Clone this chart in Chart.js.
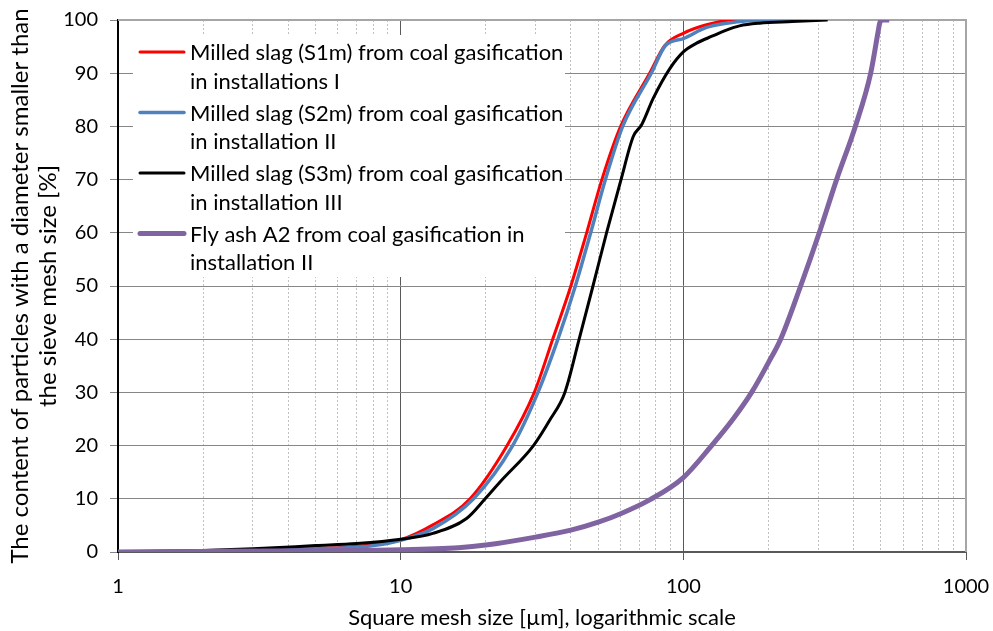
<!DOCTYPE html>
<html>
<head>
<meta charset="utf-8">
<script src="https://cdn.jsdelivr.net/npm/chart.js@4.4.0/dist/chart.umd.min.js"></script>
<style>
  html, body { margin: 0; padding: 0; background: #ffffff; }
  canvas { display: block; }
</style>
</head>
<body>
<canvas id="psd" width="993" height="631"></canvas>
<script>
// Series labels (two lines each, as shown in the key)
const seriesNames = [
  ['Milled slag (S1m) from coal gasification', 'in installations I'],
  ['Milled slag (S2m) from coal gasification', 'in installation II'],
  ['Milled slag (S3m) from coal gasification', 'in installation III'],
  ['Fly ash A2 from coal gasification in', 'installation II']
];

// Cumulative passing [%] versus square mesh size [µm]
const s1mSize    = [1, 2, 4, 6, 8, 10, 13, 17.6, 23.8, 29.7, 34.5, 40, 45.5, 51.5, 60, 76, 86, 100, 120.7, 150, 238];
const s1mPassing = [0, 0.2, 0.5, 0.8, 1.4, 2.3, 5.1, 10, 20, 30, 40, 50, 60, 70, 80, 90, 95.2, 97.5, 99.1, 100, 100];

const s2mSize    = [1, 2, 4, 6, 8, 10, 13, 18.1, 24.9, 30.6, 36, 41.5, 47, 53, 61, 77, 86.5, 100, 120.7, 142, 200, 247];
const s2mPassing = [0, 0.2, 0.4, 0.7, 1.2, 2.2, 4.4, 10, 20, 30, 40, 50, 60, 70, 80, 90, 95.2, 96.5, 98.6, 99.4, 100, 100];

const s3mSize    = [1, 2, 3, 5, 7, 10, 13, 17.1, 19.9, 22.5, 29.5, 33.7, 38.1, 42.8, 47.9, 53.5, 60.2, 66.5, 71.2, 78.3, 89.7, 100, 111, 127, 142, 158, 186, 243, 324];
const s3mPassing = [0, 0.3, 0.6, 1.2, 1.6, 2.4, 3.5, 6.3, 10, 13.2, 20, 24.8, 30, 40, 50, 60, 70, 78.1, 80.3, 85.3, 90.9, 94, 95.6, 97, 98.1, 98.9, 99.4, 99.7, 100];

const a2Size     = [1, 2, 5, 10, 16, 20, 30, 40, 50, 60, 76, 100, 125.9, 150, 174.4, 200, 220.9, 260, 302.6, 348.5, 406, 460, 488, 495, 506, 535];
const a2Passing  = [0, 0.1, 0.25, 0.4, 0.8, 1.3, 2.8, 4.1, 5.6, 7.2, 9.8, 14, 20, 25, 30, 35.6, 40, 50, 60, 70, 80, 90, 97.6, 99.4, 100, 100];

// Axis ticks
const xDecades    = [1, 10, 100, 1000];
const yTickValues = [0, 10, 20, 30, 40, 50, 60, 70, 80, 90, 100];

const xTitle = 'Square mesh size [µm], logarithmic scale';
const yTitle = ['The content of particles with a diameter smaller than', 'the sieve mesh size [%]'];

const FONT = 'Lato, "Open Sans", sans-serif';

function points(xs, ys) {
  return xs.map((x, i) => ({ x: x, y: ys[i] }));
}

function isDecade(v) {
  if (v === undefined || v === null) return false;
  const l = Math.log10(v);
  return Math.abs(l - Math.round(l)) < 1e-9;
}

// 1..9 per decade, plus the last decade
function logTicks(decades) {
  const t = [];
  for (let i = 0; i < decades.length - 1; i++) {
    for (let k = 1; k < 10; k++) t.push({ value: decades[i] * k });
  }
  t.push({ value: decades[decades.length - 1] });
  return t;
}

// Plot frame: top and right edges
const plotFrame = {
  id: 'plotFrame',
  beforeDatasetsDraw(chart) {
    const { ctx, chartArea: a } = chart;
    ctx.save();
    ctx.strokeStyle = '#a6a6a6';
    ctx.lineWidth = 2;
    ctx.beginPath();
    ctx.moveTo(a.left, a.top);
    ctx.lineTo(a.right, a.top);
    ctx.lineTo(a.right, a.bottom);
    ctx.stroke();
    ctx.restore();
  }
};

// Key drawn inside the plot area, upper left
const seriesKey = {
  id: 'seriesKey',
  afterDatasetsDraw(chart) {
    const { ctx, chartArea: a } = chart;
    const x0 = a.left + 15, y0 = a.top + 15, w = 432, h = 242;
    ctx.save();
    ctx.fillStyle = '#ffffff';
    ctx.fillRect(x0, y0, w, h);
    ctx.font = '22px ' + FONT;
    ctx.textBaseline = 'middle';
    ctx.textAlign = 'left';
    chart.data.datasets.forEach((ds, i) => {
      const cy = y0 + 17 + i * 60.5;
      ctx.strokeStyle = ds.borderColor;
      ctx.lineWidth = ds.borderWidth;
      ctx.lineCap = 'round';
      ctx.beginPath();
      ctx.moveTo(x0 + 7, cy);
      ctx.lineTo(x0 + 51, cy);
      ctx.stroke();
      ctx.fillStyle = '#000000';
      seriesNames[i].forEach((line, j) => {
        ctx.fillText(line, x0 + 57, cy + 1 + j * 28.5);
      });
    });
    ctx.restore();
  }
};

new Chart(document.getElementById('psd'), {
  type: 'scatter',
  data: {
    datasets: [
      { label: seriesNames[0].join(' '), data: points(s1mSize, s1mPassing), borderColor: '#ff0000', borderWidth: 3, order: 3 },
      { label: seriesNames[1].join(' '), data: points(s2mSize, s2mPassing), borderColor: '#4f81bd', borderWidth: 3.5, order: 2 },
      { label: seriesNames[2].join(' '), data: points(s3mSize, s3mPassing), borderColor: '#000000', borderWidth: 3, order: 1 },
      { label: seriesNames[3].join(' '), data: points(a2Size, a2Passing), borderColor: '#8064a2', borderWidth: 5, order: 0 }
    ]
  },
  options: {
    responsive: false,
    animation: false,
    devicePixelRatio: 1,
    layout: { padding: { left: 0, top: 20, right: 27, bottom: 0 } },
    datasets: { scatter: { showLine: true, pointRadius: 0, pointHoverRadius: 0, fill: false, cubicInterpolationMode: 'monotone' } },
    plugins: { legend: { display: false }, tooltip: { enabled: false } },
    scales: {
      x: {
        type: 'logarithmic',
        position: 'bottom',
        min: xDecades[0],
        max: xDecades[xDecades.length - 1],
        afterBuildTicks: s => { s.ticks = logTicks(xDecades); },
        afterFit: s => { s.height = 79; s.paddingLeft = 0; s.paddingRight = 0; },
        ticks: {
          autoSkip: false, maxRotation: 0, minRotation: 0, padding: 15,
          color: '#000000', font: { family: FONT, size: 20, lineHeight: 1.2 },
          callback: v => isDecade(v) ? String(v) : ''
        },
        grid: {
          color: c => isDecade(c.tick && c.tick.value) ? '#595959' : '#c0c0c0',
          lineWidth: 1,
          drawTicks: true,
          tickLength: 8,
          tickColor: c => isDecade(c.tick && c.tick.value) ? '#595959' : 'rgba(0,0,0,0)'
        },
        border: {
          color: '#595959', width: 2,
          dash: c => (c.tick && !isDecade(c.tick.value)) ? [2, 2] : []
        },
        title: {
          display: true, text: xTitle, color: '#000000',
          font: { family: FONT, size: 22, lineHeight: 1.2 },
          padding: { top: 0, bottom: 0 }
        }
      },
      y: {
        min: 0,
        max: 100,
        afterBuildTicks: s => { s.ticks = yTickValues.map(v => ({ value: v })); },
        afterFit: s => { s.width = 118; s.paddingTop = 0; s.paddingBottom = 0; },
        ticks: { padding: 12, color: '#000000', font: { family: FONT, size: 20 } },
        grid: { color: '#868686', lineWidth: 1, drawTicks: true, tickLength: 8, tickColor: '#868686' },
        border: { color: '#000000', width: 2 },
        title: {
          display: true, text: yTitle, color: '#000000',
          font: { family: FONT, size: 24, lineHeight: 1.17 },
          padding: { top: 6, bottom: 0 }
        }
      }
    }
  },
  plugins: [plotFrame, seriesKey]
});
</script>
</body>
</html>
